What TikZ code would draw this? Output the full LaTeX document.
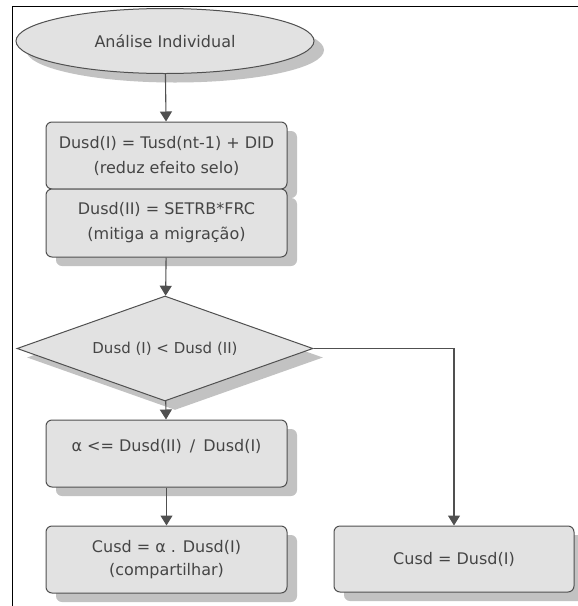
\documentclass[tikz,border=0pt]{standalone}
\usepackage{fontspec}
\setmainfont{DejaVu Sans}
\usetikzlibrary{shapes.geometric,arrows.meta,shadows}
\definecolor{boxfill}{HTML}{E2E2E2}
\definecolor{boxline}{HTML}{505050}
\definecolor{shade}{HTML}{C2C2C2}
\definecolor{txt}{HTML}{454545}
\begin{document}
\begin{tikzpicture}[x=1pt,y=-1pt,
  txtfont/.style={font=\fontsize{16}{25}\selectfont, text=txt},
  shad/.style={general shadow={fill=shade, shadow xshift=10pt, shadow yshift=-9pt}},
  proc/.style={txtfont, draw=boxline, fill=boxfill, rounded corners=6pt, line width=1pt,
    minimum width=241pt, minimum height=67pt, inner sep=0pt, align=center, shad},
  term/.style={txtfont, ellipse, draw=boxline, fill=boxfill, line width=1pt,
    minimum width=298pt, minimum height=65pt, inner sep=0pt, shad},
  decis/.style={txtfont, diamond, aspect=2.82, draw=boxline, fill=boxfill, line width=1pt,
    minimum width=296pt, minimum height=105pt, inner sep=0pt, shad},
  conn/.style={draw=boxline, line width=1.1pt, -{Triangle[length=10pt,width=12pt]}}]
\useasboundingbox (0,0) rectangle (578,606);
\node[term] (start) at (165,41) {Análise Individual};
\node[proc] (b1) at (166.5,155.5) {Dusd(I) = Tusd(nt-1) + DID\\(reduz efeito selo)};
\node[proc, minimum height=68pt] (b2) at (166.5,223) {Dusd(II) = SETRB*FRC\\(mitiga a migração)};
\node[decis, font=\fontsize{15}{20}\selectfont] (d) at (165,348.5) {Dusd (I) < Dusd (II)};
\node[proc, font=\fontsize{16}{17}\selectfont] (b3) at (166.5,453.5) {α <= Dusd(II)\enspace/\enspace Dusd(I)\hspace{14pt}\\\mbox{}};
\node[proc, font=\fontsize{16}{23}\selectfont] (b4) at (166.5,559.5) {Cusd = α . Dusd(I)\\(compartilhar)};
\node[proc, minimum width=240pt, minimum height=66pt] (b5) at (454,559) {Cusd = Dusd(I)};
\draw[conn] (start) -- (b1);
\draw[conn] (b2) -- (d);
\draw[conn] (d) -- (b3);
\draw[conn] (b3) -- (b4);
\draw[conn] (d.east) -| (b5.north);
\draw[black, line width=1.5pt] (578,6.5) -- (12.5,6.5) -- (12.5,606);
\end{tikzpicture}
\end{document}
